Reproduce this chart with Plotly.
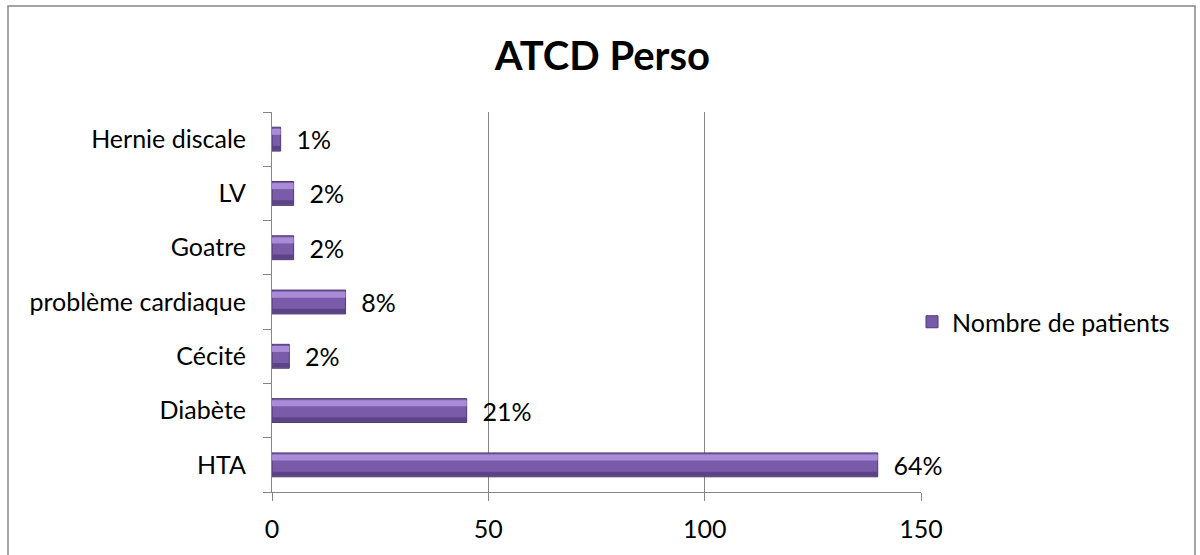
import plotly.graph_objects as go

# Antécédents personnels : nombre de patients par antécédent
categories = ["HTA", "Diabète", "Cécité", "problème cardiaque", "Goatre", "LV", "Hernie discale"]
patients = [140, 45, 4, 17, 5, 5, 2]
percent_labels = ["64%", "21%", "2%", "8%", "2%", "2%", "1%"]
x_ticks = [0, 50, 100, 150]

FONT = "Lato, 'Open Sans', sans-serif"
GRID = "#868686"
BAR_W = 0.44
FS = 25

fig = go.Figure()

# main bars
fig.add_trace(go.Bar(
    y=categories, x=patients, orientation="h",
    name="Nombre de patients",
    marker=dict(color="#7A5BAA", line=dict(color="#4E3A6E", width=1)),
    width=BAR_W,
    text=percent_labels, texttemplate="\u00a0\u00a0%{text}",
    textposition="outside", constraintext="none",
    textfont=dict(family=FONT, size=FS, color="#000000"),
    cliponaxis=False,
))
# lighter top strip giving the bevelled look
fig.add_trace(go.Bar(
    y=categories, x=patients, orientation="h",
    marker=dict(color="#A88CD8", line=dict(width=0)),
    width=0.11, offset=BAR_W / 2 - 0.14,
    showlegend=False, hoverinfo="skip",
))
# darker bottom strip
fig.add_trace(go.Bar(
    y=categories, x=patients, orientation="h",
    marker=dict(color="#5C4386", line=dict(width=0)),
    width=0.08, offset=-BAR_W / 2 + 0.015,
    showlegend=False, hoverinfo="skip",
))

fig.update_layout(
    width=1200, height=555,
    margin=dict(l=272, r=279, t=112, b=63),
    paper_bgcolor="white", plot_bgcolor="white",
    barmode="overlay",
    title=dict(text="<b>ATCD Perso</b>", x=0.502, xanchor="center",
               y=0.9, yanchor="middle",
               font=dict(family=FONT, size=40, color="#000000")),
    font=dict(family=FONT, size=FS, color="#000000"),
    showlegend=True,
    legend=dict(x=(912 - 272) / 649, y=(492 - 322) / 380, xanchor="left", yanchor="middle",
                font=dict(family=FONT, size=FS), itemwidth=30,
                bgcolor="rgba(0,0,0,0)"),
    xaxis=dict(range=[0, 150], tickvals=x_ticks, showgrid=True, gridcolor=GRID,
               gridwidth=1, showline=True, linecolor=GRID, linewidth=1,
               ticks="outside", ticklen=8, tickcolor=GRID, zeroline=False,
               ticklabelstandoff=7,
               tickfont=dict(family=FONT, size=FS)),
    yaxis=dict(showline=True, linecolor=GRID, linewidth=1, ticks="outside",
               ticklen=8, tickcolor=GRID, tickson="boundaries", showgrid=False,
               ticklabelstandoff=20,
               tickfont=dict(family=FONT, size=FS)),
    shapes=[dict(type="rect", xref="paper", yref="paper",
                 x0=(8 - 272) / 649, x1=(1195 - 272) / 649, y0=-0.5, y1=(492 - 6) / 380,
                 line=dict(color="#868686", width=1.5), fillcolor="rgba(0,0,0,0)",
                 layer="below")],
)

fig.write_html("out.html")
